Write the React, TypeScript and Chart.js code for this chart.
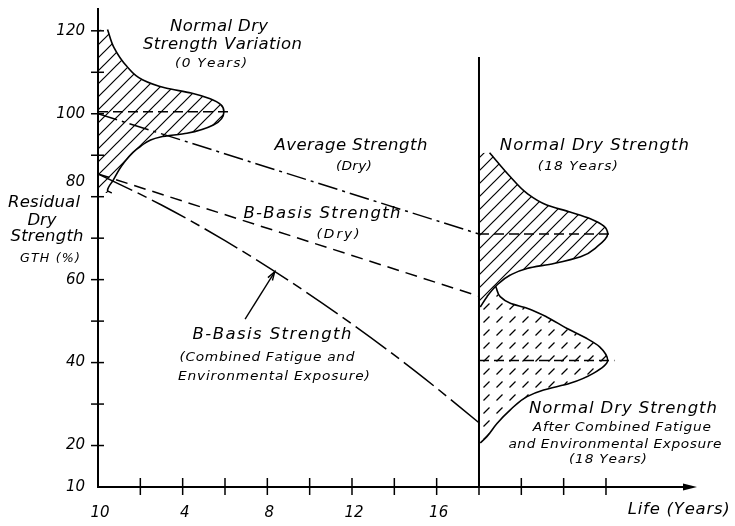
import React, { useEffect, useRef } from "react";
import { Chart, registerables } from "chart.js";

Chart.register(...registerables);

// ---- axes ----
const X_MIN = 0;
const X_MAX = 28.3;
const Y_MIN = 10;
const Y_MAX = 125.5;
const xTickYears = [2, 4, 6, 8, 10, 12, 14, 16, 18, 20, 22, 24];
const xLabelYears = [0, 4, 8, 12, 16];
const xLabels = ["10", "4", "8", "12", "16"];
const yTickValues = [20, 30, 40, 50, 60, 70, 80, 90, 100, 110, 120];
const yLabels = ["120", "100", "80", "60", "40", "20", "10"];
const yLabelValues = [120, 100, 83.5, 60, 40, 20, 10];

// ---- strength lines (years, residual dry strength %) ----
const averageYears = [0, 18];
const averageValues = [100, 71];
const bBasisDryYears = [0, 18];
const bBasisDryValues = [85.5, 56];
const bBasisCombinedYears = [0, 3, 6, 9, 12, 15, 18];
const bBasisCombinedValues = [85.5, 78.0, 69.4, 59.8, 49.3, 37.9, 25.5];

// ---- reference (mean) lines ----
const ref100Years = [0, 6.25];
const ref100Values = [100.5, 100.5];
const ref70Years = [18, 24.3];
const ref70Values = [71, 71];
const ref40Years = [18, 24.4];
const ref40Values = [40.5, 40.5];
const dividerYears = [18, 18];
const dividerValues = [10, 113.7];

// ---- distributions (curve from top to bottom, filled back to its base year) ----
const initialBaseYear = 0;
const initialYears = [0.45, 0.75, 1.35, 2.1, 3.2, 4.4, 5.3, 5.8, 5.95, 5.45, 4.2, 2.95, 2.0, 1.2, 0.72, 0.45, 0.65];
const initialValues = [120.3, 116, 111.5, 108.2, 106.2, 105, 103.6, 102.2, 100.5, 97.3, 95.3, 94.4, 92.1, 88, 84, 81.5, 80.9];

const dry18BaseYear = 18;
const dry18Years = [18.5, 19.48, 20.27, 21.2, 22.3, 23.26, 23.9, 24.08, 23.57, 22.8, 21.54, 20.27, 19.48, 18.85, 18.38, 18.06];
const dry18Values = [90.6, 84.8, 80.8, 78, 76.3, 74.7, 72.9, 71, 67.9, 65.5, 63.9, 62.7, 61.1, 58.7, 55.9, 53.4];

const combined18BaseYear = 18;
const combined18Years = [18.53, 18.8, 19.0, 19.48, 20.27, 21.2, 22.16, 23.1, 23.7, 24.08, 23.4, 22.3, 21.05, 20.27, 19.48, 18.85, 18.37, 18.06];
const combined18Values = [60.7, 58.2, 55.9, 54.3, 53.1, 51, 48.2, 45.8, 43.8, 40.5, 37.4, 35, 33.4, 31.8, 28.6, 25.3, 22.1, 20.6];

// ---- leader arrow ----
const leaderYears = [6.95, 8.35];
const leaderValues = [50.5, 61.9];

// ---- text annotations: [text, centre year, baseline value, width px, font px] ----
const annotations: [string, number, number, number, number][] = [
  ["Normal Dry", 5.72, 120.0, 98, 15],
  ["Strength Variation", 5.88, 115.6, 159, 15],
  ["(0 Years)", 5.34, 111.3, 72, 12.5],
  ["Average Strength", 11.95, 91.3, 153, 15],
  ["(Dry)", 12.09, 86.4, 36, 12.5],
  ["B-Basis Strength", 10.58, 74.9, 157, 15],
  ["(Dry)", 11.34, 70.1, 43, 12.5],
  ["B-Basis Strength", 8.22, 45.7, 159, 15],
  ["(Combined Fatigue and", 7.98, 40.4, 175, 12.5],
  ["Environmental Exposure)", 8.31, 35.8, 192, 12.5],
  ["Normal Dry Strength", 23.45, 91.3, 189, 15],
  ["(18 Years)", 22.67, 86.4, 80, 12.5],
  ["Normal Dry Strength", 24.8, 27.8, 188, 15],
  ["After Combined Fatigue", 24.75, 23.5, 178, 12.5],
  ["and Environmental Exposure", 24.42, 19.4, 213, 12.5],
  ["(18 Years)", 24.09, 15.8, 78, 12.5],
  ["Life (Years)", 27.44, 3.5, 102, 15],
  ["Residual", -2.55, 77.5, 72, 15],
  ["Dry", -2.65, 73.2, 29, 15],
  ["Strength", -2.41, 69.3, 73, 15],
  ["GTH (%)", -2.27, 64.3, 60, 11.5],
];

const FONT = '"DejaVu Sans", "Liberation Sans", sans-serif';
const GLYPH_STRETCH = 1.1;

function pts(xs: number[], ys: number[]) {
  return xs.map((x, i) => ({ x, y: ys[i] }));
}

function makeHatch(dashed: boolean, opaque: boolean): CanvasPattern | string {
  const s = 13;
  const c = document.createElement("canvas");
  c.width = s;
  c.height = s;
  const g = c.getContext("2d");
  if (!g) return "rgba(0,0,0,0)";
  if (opaque) {
    g.fillStyle = "#fff";
    g.fillRect(0, 0, s, s);
  }
  g.strokeStyle = "#000";
  g.lineWidth = 1.2;
  g.lineCap = "butt";
  g.beginPath();
  if (dashed) {
    g.moveTo(2.5, s - 2.5);
    g.lineTo(s - 4.5, 4.5);
  } else {
    g.moveTo(-1, s + 1);
    g.lineTo(s + 1, -1);
    g.moveTo(-1, 1);
    g.lineTo(1, -1);
    g.moveTo(s - 1, s + 1);
    g.lineTo(s + 1, s - 1);
  }
  g.stroke();
  const p = g.createPattern(c, "repeat");
  return p || "rgba(0,0,0,0)";
}

function drawSpaced(ctx: CanvasRenderingContext2D, text: string, cx: number, by: number, w: number, size: number) {
  ctx.font = `italic ${size}px ${FONT}`;
  const chars = Array.from(text);
  const widths = chars.map((c) => ctx.measureText(c).width * GLYPH_STRETCH);
  const natural = widths.reduce((a, b) => a + b, 0);
  const ls = chars.length > 1 ? (w - natural) / (chars.length - 1) : 0;
  let x = cx - w / 2;
  ctx.textAlign = "left";
  ctx.textBaseline = "alphabetic";
  chars.forEach((c, i) => {
    ctx.save();
    ctx.translate(x, by);
    ctx.scale(GLYPH_STRETCH, 1);
    ctx.fillText(c, 0, 0);
    ctx.restore();
    x += widths[i] + ls;
  });
}

const drawingPlugin = {
  id: "drawing",
  beforeDraw(chart: any) {
    const ctx = chart.ctx as CanvasRenderingContext2D;
    ctx.save();
    ctx.fillStyle = "#fff";
    ctx.fillRect(0, 0, chart.width, chart.height);
    ctx.restore();
  },
  afterDraw(chart: any) {
    const ctx = chart.ctx as CanvasRenderingContext2D;
    const xs = chart.scales.x;
    const ys = chart.scales.y;
    const px = (t: number) => xs.getPixelForValue(t);
    const py = (v: number) => ys.getPixelForValue(v);
    const x0 = px(X_MIN);
    const y0 = py(Y_MIN);
    const xEnd = px(X_MAX);
    const yTop = py(Y_MAX);
    ctx.save();
    ctx.strokeStyle = "#000";
    ctx.fillStyle = "#000";
    ctx.lineCap = "butt";

    // axes
    ctx.lineWidth = 2;
    ctx.beginPath();
    ctx.moveTo(x0, yTop);
    ctx.lineTo(x0, y0);
    ctx.lineTo(xEnd - 10, y0);
    ctx.stroke();
    ctx.beginPath();
    ctx.moveTo(xEnd, y0);
    ctx.lineTo(xEnd - 14, y0 - 3.5);
    ctx.lineTo(xEnd - 14, y0 + 3.5);
    ctx.closePath();
    ctx.fill();

    // ticks
    ctx.lineWidth = 1.5;
    yTickValues.forEach((v) => {
      const yy = py(v);
      ctx.beginPath();
      ctx.moveTo(x0 - 7, yy);
      ctx.lineTo(x0 + 6, yy);
      ctx.stroke();
    });
    xTickYears.forEach((t) => {
      const xx = px(t);
      ctx.beginPath();
      ctx.moveTo(xx, y0 - 9);
      ctx.lineTo(xx, y0 + 8);
      ctx.stroke();
    });

    // tick labels
    ctx.font = `italic 15px ${FONT}`;
    ctx.textAlign = "right";
    ctx.textBaseline = "middle";
    yLabels.forEach((lab, i) => {
      ctx.fillText(lab, x0 - 13, py(yLabelValues[i]));
    });
    ctx.textAlign = "center";
    ctx.textBaseline = "alphabetic";
    xLabels.forEach((lab, i) => {
      ctx.fillText(lab, px(xLabelYears[i]) + 2, y0 + 30);
    });

    // leader arrow
    const ax = px(leaderYears[0]);
    const ay = py(leaderValues[0]);
    const bx = px(leaderYears[1]);
    const by = py(leaderValues[1]);
    ctx.lineWidth = 1.4;
    ctx.beginPath();
    ctx.moveTo(ax, ay);
    ctx.lineTo(bx, by);
    ctx.stroke();
    const ang = Math.atan2(by - ay, bx - ax);
    ctx.beginPath();
    ctx.moveTo(bx - 9 * Math.cos(ang - 0.3), by - 9 * Math.sin(ang - 0.3));
    ctx.lineTo(bx, by);
    ctx.lineTo(bx - 9 * Math.cos(ang + 0.3), by - 9 * Math.sin(ang + 0.3));
    ctx.stroke();

    // annotations
    annotations.forEach(([text, t, v, w, size]) => {
      drawSpaced(ctx, text, px(t), py(v), w, size);
    });
    ctx.restore();
  },
};

export default function App() {
  const ref = useRef<HTMLCanvasElement | null>(null);
  useEffect(() => {
    const canvas = ref.current;
    if (!canvas) return;
    const solidHatch = makeHatch(false, false);
    const solidHatchOpaque = makeHatch(false, true);
    const dashedHatch = makeHatch(true, false);
    const base = { pointRadius: 0, borderColor: "#000", fill: false, tension: 0 };
    const dist = (years: number[], values: number[], baseYear: number, pattern: any, label: string) => ({
      ...base,
      label,
      data: pts(years, values),
      indexAxis: "y",
      cubicInterpolationMode: "monotone",
      borderWidth: 1.6,
      fill: { value: baseYear },
      backgroundColor: pattern,
    });
    const chart = new Chart(canvas, {
      type: "line",
      data: {
        datasets: [
          { ...base, label: "Average Strength (Dry)", data: pts(averageYears, averageValues), borderWidth: 1.5, borderDash: [20, 5, 3, 5] },
          { ...base, label: "B-Basis Strength (Dry)", data: pts(bBasisDryYears, bBasisDryValues), borderWidth: 1.5, borderDash: [12, 7] },
          { ...base, label: "B-Basis Strength (Combined Fatigue and Environmental Exposure)", data: pts(bBasisCombinedYears, bBasisCombinedValues), borderWidth: 1.5, borderDash: [38, 6, 10, 6], cubicInterpolationMode: "monotone" },
          { ...base, label: "Mean 0 years", data: pts(ref100Years, ref100Values), borderWidth: 1.4, borderDash: [10, 5] },
          { ...base, label: "Mean 18 years", data: pts(ref70Years, ref70Values), borderWidth: 1.4, borderDash: [10, 5] },
          { ...base, label: "Mean combined 18 years", data: pts(ref40Years, ref40Values), borderWidth: 1.4, borderDash: [10, 5] },
          { ...base, label: "18 years", data: pts(dividerYears, dividerValues), borderWidth: 2 },
          dist(initialYears, initialValues, initialBaseYear, solidHatch, "Normal Dry Strength Variation (0 Years)"),
          dist(dry18Years, dry18Values, dry18BaseYear, solidHatchOpaque, "Normal Dry Strength (18 Years)"),
          dist(combined18Years, combined18Values, combined18BaseYear, dashedHatch, "Normal Dry Strength After Combined Fatigue and Environmental Exposure (18 Years)"),
        ] as any,
      },
      options: {
        animation: false,
        responsive: false,
        maintainAspectRatio: false,
        events: [],
        layout: { padding: { left: 98, right: 38, top: 8, bottom: 39 } },
        scales: {
          x: { type: "linear", min: X_MIN, max: X_MAX, display: false },
          y: { type: "linear", min: Y_MIN, max: Y_MAX, display: false },
        },
        plugins: { legend: { display: false }, tooltip: { enabled: false } },
      } as any,
      plugins: [drawingPlugin],
    });
    return () => chart.destroy();
  }, []);
  return (
    <div style={{ position: "absolute", left: 0, top: 0, width: 735, height: 526 }}>
      <canvas ref={ref} width={735} height={526} style={{ display: "block", width: 735, height: 526 }} />
    </div>
  );
}
